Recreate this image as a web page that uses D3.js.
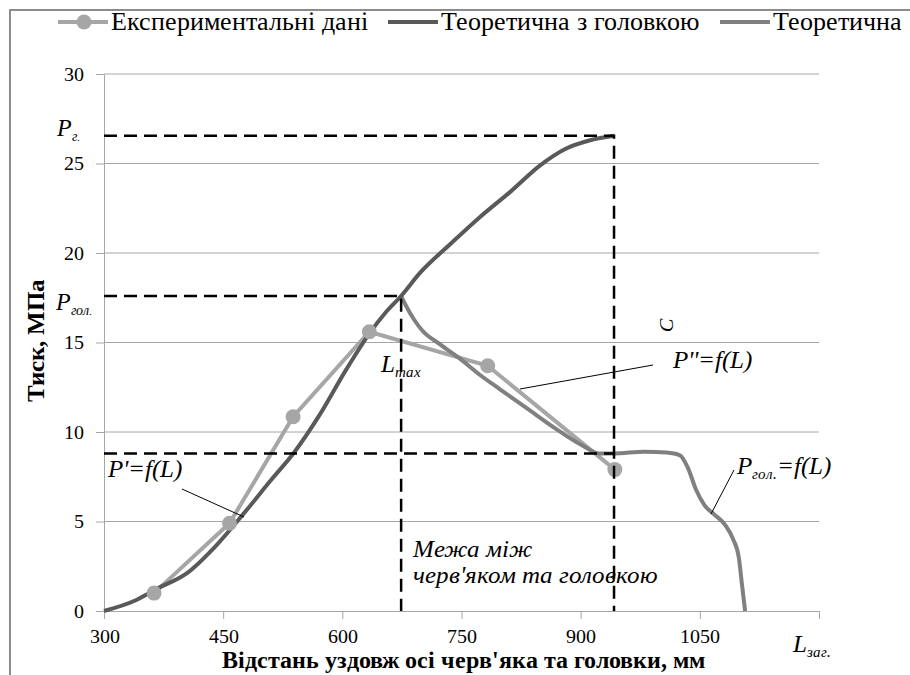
<!DOCTYPE html>
<html>
<head>
<meta charset="utf-8">
<script src="https://cdn.jsdelivr.net/npm/d3@7"></script>
<style>
  @font-face { font-family: "ChartSerif"; font-style: normal; font-weight: 400; src: local("Liberation Serif"), local("LiberationSerif"); }
  @font-face { font-family: "ChartSerif"; font-style: normal; font-weight: 700; src: local("Liberation Serif Bold"), local("LiberationSerif-Bold"); }
  @font-face { font-family: "ChartSerif"; font-style: italic; font-weight: 400; src: local("Liberation Serif Italic"), local("LiberationSerif-Italic"); }
</style>
</head>
<body style="margin:0;background:#fff">
<div id="chart"></div>
<script>
// experimental points
const expL = [363, 458, 538, 634, 783, 943];
const expP = [1.0, 4.9, 10.85, 15.6, 13.7, 7.9];

// theoretical with head (worm + head)
const headL = [300, 340, 367, 404, 440, 475, 510, 540, 572, 605, 634, 655, 674, 698, 736, 773, 811, 849, 880, 912, 942];
const headP = [0, 0.6, 1.25, 2.1, 3.6, 5.4, 7.3, 8.9, 11.0, 13.5, 15.5, 16.7, 17.6, 18.9, 20.5, 22.0, 23.4, 24.9, 25.8, 26.3, 26.55];

// theoretical
const theoL = [674, 682, 690, 700, 723, 748, 773, 798, 833, 868, 900, 924, 942, 980, 1008, 1025, 1035, 1045, 1056, 1068, 1082, 1092, 1099, 1103, 1107];
const theoP = [17.6, 16.9, 16.3, 15.7, 14.9, 14.1, 13.2, 12.4, 11.3, 10.2, 9.3, 8.8, 8.8, 8.9, 8.85, 8.7, 8.0, 6.8, 5.9, 5.4, 4.8, 4.0, 3.0, 1.5, 0];

const yTicks = [0, 5, 10, 15, 20, 25, 30];
const xTicks = [300, 450, 600, 750, 900, 1050, 1200];
const xTickLabels = ["300", "450", "600", "750", "900", "1050", ""];
const legendNames = ["Експериментальні дані", "Теоретична з головкою", "Теоретична"];

// reference levels
const pHead = 26.55, pGol = 17.6, pLow = 8.8, lMax = 674, lEnd = 942;

const width = 910, height = 675;
const colExp = "#a6a6a6", colHead = "#595959", colTheo = "#808080";
const FONT = "ChartSerif, 'Liberation Serif', 'Times New Roman', serif";

const x = d3.scaleLinear().domain([300, 1200]).range([104, 819]);
const y = d3.scaleLinear().domain([0, 30]).range([611, 74]);

const svg = d3.select("#chart").append("svg")
  .attr("width", width).attr("height", height)
  .style("font-family", FONT);

// outer frame
svg.append("rect")
  .attr("x", 10).attr("y", 10).attr("width", 960).attr("height", 700)
  .attr("fill", "none").attr("stroke", "#8c8c8c").attr("stroke-width", 2);

// gridlines
svg.append("g").selectAll("line").data(yTicks.slice(1)).join("line")
  .attr("x1", x(300)).attr("x2", x(1200))
  .attr("y1", d => y(d)).attr("y2", d => y(d))
  .attr("stroke", "#a6a6a6").attr("stroke-width", 1);

// axes
const xAxis = d3.axisBottom(x).tickValues(xTicks)
  .tickFormat((d, i) => xTickLabels[i]).tickSize(8).tickSizeOuter(0);
const yAxis = d3.axisLeft(y).tickValues(yTicks).tickSize(8).tickSizeOuter(0);

const gx = svg.append("g").attr("transform", `translate(0,${y(0)})`).call(xAxis);
const gy = svg.append("g").attr("transform", `translate(${x(300)},0)`).call(yAxis);
[gx, gy].forEach(g => {
  g.attr("font-family", null).attr("font-size", 20);
  g.selectAll("path, line").attr("stroke", "#a6a6a6");
  g.selectAll("text").style("font-family", FONT).attr("font-size", 20).attr("fill", "#000");
});
gx.selectAll("text").attr("dy", "1.05em");
gy.selectAll("text").attr("dx", -9);

// series
const line = d3.line().x(d => x(d[0])).y(d => y(d[1]));
const smooth = d3.line().x(d => x(d[0])).y(d => y(d[1])).curve(d3.curveMonotoneX);

const expData = expL.map((l, i) => [l, expP[i]]);
const headData = headL.map((l, i) => [l, headP[i]]);
const theoData = theoL.map((l, i) => [l, theoP[i]]);

svg.append("path").datum(expData).attr("d", line)
  .attr("fill", "none").attr("stroke", colExp).attr("stroke-width", 4);
svg.append("path").datum(theoData).attr("d", smooth)
  .attr("fill", "none").attr("stroke", colTheo).attr("stroke-width", 4);
svg.append("path").datum(headData).attr("d", smooth)
  .attr("fill", "none").attr("stroke", colHead).attr("stroke-width", 4);
svg.append("g").selectAll("circle").data(expData).join("circle")
  .attr("cx", d => x(d[0])).attr("cy", d => y(d[1])).attr("r", 7.5)
  .attr("fill", colExp);

// dashed guide lines
const dash = svg.append("g").attr("stroke", "#000").attr("stroke-width", 2.5)
  .attr("stroke-dasharray", "13,7").attr("fill", "none");
dash.append("path").attr("d", `M${x(300)},${y(pHead)}H${x(lEnd)}V${y(0)}`);
dash.append("path").attr("d", `M${x(300)},${y(pGol)}H${x(lMax)}V${y(0)}`);
dash.append("path").attr("d", `M${x(300)},${y(pLow)}H${x(lEnd)}`);

// connector lines
const conn = svg.append("g").attr("stroke", "#000").attr("stroke-width", 1);
conn.append("line").attr("x1", 182).attr("y1", 489).attr("x2", 244).attr("y2", 517);
conn.append("line").attr("x1", 520).attr("y1", 389).attr("x2", 653).attr("y2", 365);
conn.append("line").attr("x1", 734).attr("y1", 470).attr("x2", 711).attr("y2", 514);

// text helper
function txt(sel) {
  return sel.append("text").style("font-family", FONT).attr("fill", "#000");
}

// annotations
function subLabel(xp, yp, main, sub, rest, size) {
  const t = txt(svg).attr("x", xp).attr("y", yp)
    .attr("font-style", "italic").attr("font-size", size);
  t.append("tspan").text(main);
  t.append("tspan").attr("dy", 5).attr("font-size", size * 0.6).text(sub);
  if (rest) t.append("tspan").attr("dy", -5).text(rest);
  return t;
}
subLabel(57, 136, "P", "г.", null, 24);
subLabel(56, 310, "P", "гол.", null, 24);
subLabel(381, 372, "L", "max", null, 25);
subLabel(793, 652, "L", "заг.", null, 25);
subLabel(737, 474, "P", "гол.", "=f(L)", 25);

txt(svg).attr("x", 108).attr("y", 477)
  .attr("font-style", "italic").attr("font-size", 25).text("P'=f(L)");
txt(svg).attr("x", 673).attr("y", 368)
  .attr("font-style", "italic").attr("font-size", 25).text("P''=f(L)");
txt(svg).attr("transform", "translate(673,325) rotate(-90)")
  .attr("text-anchor", "middle").attr("font-style", "italic").attr("font-size", 20).text("C");
txt(svg).attr("x", 413).attr("y", 557)
  .attr("font-style", "italic").attr("font-size", 25).text("Межа між");
txt(svg).attr("x", 413).attr("y", 583)
  .attr("font-style", "italic").attr("font-size", 25).text("черв'яком та головкою");

// axis titles
txt(svg).attr("transform", "translate(44,340) rotate(-90)")
  .attr("text-anchor", "middle").attr("font-weight", "bold").attr("font-size", 25)
  .text("Тиск, МПа");
txt(svg).attr("x", 463).attr("y", 668)
  .attr("text-anchor", "middle").attr("font-weight", "bold").attr("font-size", 24)
  .text("Відстань уздовж осі черв'яка та головки, мм");

// legend
const legX = [58, 388, 720];
const legCol = [colExp, colHead, colTheo];
const leg = svg.append("g").selectAll("g").data(legendNames).join("g")
  .attr("transform", (d, i) => `translate(${legX[i]},22)`);
leg.append("line").attr("x1", 0).attr("x2", 50).attr("y1", 0).attr("y2", 0)
  .attr("stroke", (d, i) => legCol[i]).attr("stroke-width", 4);
leg.filter((d, i) => i === 0).append("circle")
  .attr("cx", 26).attr("cy", 0).attr("r", 7.5).attr("fill", colExp);
leg.append("text").style("font-family", FONT).attr("fill", "#000")
  .attr("x", 53).attr("y", 8).attr("font-size", 26).text(d => d);
</script>
</body>
</html>
